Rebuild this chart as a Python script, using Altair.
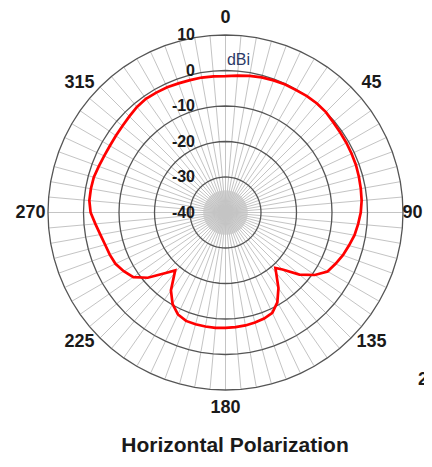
import altair as alt
import pandas as pd

# ---- data ----
pattern_angle = [0, 5, 10, 15, 20, 25, 30, 35, 40, 45, 50, 55, 60, 65, 70, 75, 80, 85,
                 90, 95, 100, 105, 110, 115, 120, 125, 130, 135, 138, 140, 145, 150, 155,
                 160, 165, 170, 175, 180, 185, 190, 195, 200, 205, 210, 215, 221, 225,
                 230, 235, 240, 245, 250, 255, 260, 265, 270, 275, 280, 285, 290, 295,
                 300, 305, 310, 315, 320, 325, 330, 335, 340, 345, 350, 355, 360]
pattern_gain = [-1.6, -1.3, -0.9, -0.6, -0.4, -0.2, -0.2, 0.0, 0.1, 0.0, -0.4, -0.6, -0.7,
                -0.8, -0.9, -1.1, -1.3, -1.5, -1.9, -2.5, -3.1, -4.0, -4.8, -5.8, -6.8,
                -9.3, -12.8, -17.3, -19.0, -17.8, -14.0, -10.8, -8.8, -8.2, -7.9, -7.7,
                -7.6, -7.5, -7.4, -7.4, -7.4, -7.5, -8.3, -10.2, -13.2, -18.4, -15.8,
                -11.4, -8.3, -6.9, -5.8, -5.3, -4.9, -4.2, -3.2, -2.0, -1.5, -1.5, -1.6,
                -2.0, -2.3, -2.4, -2.3, -2.1, -1.7, -1.2, -0.9, -1.0, -1.1, -1.3, -1.4,
                -1.4, -1.5, -1.6]
ring_levels = [10, 0, -10, -20, -30]
radial_tick_levels = [10, 0, -10, -20, -30, -40]
radial_tick_labels = ["10", "0", "-10", "-20", "-30", "-40"]
angle_tick_values = [0, 45, 90, 135, 180, 225, 270, 315]
angle_tick_labels = ["0", "45", "90", "135", "180", "225", "270", "315"]
spoke_angles = list(range(0, 360, 5))
unit_label = "dBi"
title_text = "Horizontal Polarization"
neighbour_fragment = "270"

# ---- layout ----
R_MIN = -40          # dB value at the centre
PX_PER_UNIT = 3.55   # pixels per dB
W, H = 416, 449
CX, CY = 217.5, 204.5   # centre inside the view
x_dom = [-CX / PX_PER_UNIT, (W - CX) / PX_PER_UNIT]
y_dom = [-(H - CY) / PX_PER_UNIT, CY / PX_PER_UNIT]
xs = alt.Scale(domain=x_dom, nice=False, zero=False)
ys = alt.Scale(domain=y_dom, nice=False, zero=False)
FONT = "Liberation Sans"
LABEL_X_MAX = (W - CX - 11.5) / PX_PER_UNIT   # keep the "90" label inside the page

def X(field):
    return alt.X(field, type="quantitative", scale=xs, axis=None)

def Y(field):
    return alt.Y(field, type="quantitative", scale=ys, axis=None)

polar_x = f"(datum.g - ({R_MIN})) * sin(datum.a * PI / 180)"
polar_y = f"(datum.g - ({R_MIN})) * cos(datum.a * PI / 180)"

# soft grey hub where the spokes converge
hub = alt.Chart(pd.DataFrame({"cx": [0.0], "cy": [0.0]})).mark_circle(
    color="#d6d6d6", opacity=1, size=2000
).encode(x=X("cx"), y=Y("cy"))

# spokes
spokes_df = pd.DataFrame({"a": spoke_angles, "g": [10] * len(spoke_angles)})
spokes = alt.Chart(spokes_df).transform_calculate(
    x=polar_x, y=polar_y, x0="0", y0="0"
).mark_rule(color="#c4c4c4", strokeWidth=1).encode(
    x=X("x0"), y=Y("y0"), x2="x:Q", y2="y:Q"
)

# rings (72-gons)
ring_rows = []
for lv in ring_levels:
    for i, a in enumerate(spoke_angles + [360]):
        ring_rows.append({"ring": lv, "a": a, "g": lv, "i": i})
rings_df = pd.DataFrame(ring_rows)
rings = alt.Chart(rings_df).transform_calculate(
    x=polar_x, y=polar_y
).mark_line(color="#555555", strokeWidth=1.3).encode(
    x=X("x"), y=Y("y"), detail="ring:N", order="i:Q"
)

# pattern
pat_df = pd.DataFrame({"a": pattern_angle, "g": pattern_gain,
                       "i": range(len(pattern_angle))})
pattern = alt.Chart(pat_df).transform_calculate(
    x=polar_x, y=polar_y
).mark_line(color="#ff0000", strokeWidth=2.7).encode(
    x=X("x"), y=Y("y"), order="i:Q"
)

# angle labels (diagonal ones sit a little towards the horizontal)
ang_df = pd.DataFrame({"a0": angle_tick_values, "t": angle_tick_labels})
ang_labels = alt.Chart(ang_df).transform_calculate(
    a="datum.a0 + 3.5 * sin(2 * datum.a0 * PI / 180)",
    g=f"{R_MIN + 195 / PX_PER_UNIT}"
).transform_calculate(
    xr=polar_x, yr=polar_y
).transform_calculate(
    x=f"min(datum.xr, {LABEL_X_MAX})",
    y=f"min(datum.yr, {(CY - 10) / PX_PER_UNIT})"
).mark_text(font=FONT, fontSize=18, fontWeight="bold", color="#1a1a1a",
            align="center", baseline="middle").encode(
    x=X("x"), y=Y("y"), text="t:N"
)

# radial labels
rad_df = pd.DataFrame({"g": radial_tick_levels, "t": radial_tick_labels})
rad_labels = alt.Chart(rad_df).transform_calculate(
    y=f"datum.g - ({R_MIN})", x=f"{-30.5 / PX_PER_UNIT}"
).mark_text(font=FONT, fontSize=16, fontWeight="bold", color="#1a1a1a",
            align="right", baseline="middle").encode(
    x=X("x"), y=Y("y"), text="t:N"
)

# unit, title, fragment of neighbouring chart
unit = alt.Chart(pd.DataFrame({"t": [unit_label]})).mark_text(
    font=FONT, fontSize=16, color="#2b3a67", align="left", baseline="middle"
).encode(x=alt.datum(0.4, scale=xs), y=alt.datum(152.5 / PX_PER_UNIT, scale=ys),
         text="t:N")

title = alt.Chart(pd.DataFrame({"t": [title_text]})).mark_text(
    font=FONT, fontSize=21, fontWeight="bold", color="#1a1a1a",
    align="center", baseline="middle"
).encode(x=alt.datum(9.5 / PX_PER_UNIT, scale=xs),
         y=alt.datum(-233.5 / PX_PER_UNIT, scale=ys), text="t:N")

frag = alt.Chart(pd.DataFrame({"t": [neighbour_fragment]})).mark_text(
    font=FONT, fontSize=18, fontWeight="bold", color="#1a1a1a",
    align="left", baseline="middle"
).encode(x=alt.datum(192.5 / PX_PER_UNIT, scale=xs),
         y=alt.datum(-167.5 / PX_PER_UNIT, scale=ys), text="t:N")

chart = alt.layer(hub, spokes, rings, pattern, ang_labels, rad_labels, unit, title, frag).properties(
    width=W, height=H, padding=0, autosize=alt.AutoSizeParams(type="none"),
    background="white"
).configure_view(stroke=None)

chart.save("out.html", embed_options={"renderer": "svg", "actions": False})
